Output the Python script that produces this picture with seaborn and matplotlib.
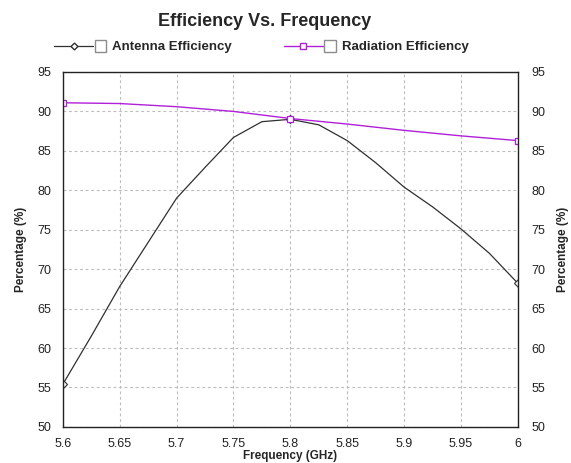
import pandas as pd
import matplotlib.pyplot as plt
import seaborn as sns
from matplotlib.lines import Line2D
from matplotlib.patches import Rectangle

# data
freq_ant = [5.6, 5.625, 5.65, 5.675, 5.7, 5.725, 5.75, 5.775, 5.8,
            5.825, 5.85, 5.875, 5.9, 5.925, 5.95, 5.975, 6.0]
antenna_eff = [55.4, 61.5, 67.8, 73.4, 79.0, 82.9, 86.7, 88.7, 89.0,
               88.3, 86.3, 83.5, 80.4, 77.9, 75.1, 72.0, 68.2]

freq_rad = [5.6, 5.65, 5.7, 5.75, 5.8, 5.85, 5.9, 5.95, 6.0]
radiation_eff = [91.1, 91.0, 90.6, 90.0, 89.1, 88.4, 87.6, 86.9, 86.3]

x_ticks = [5.6, 5.65, 5.7, 5.75, 5.8, 5.85, 5.9, 5.95, 6.0]
x_tick_labels = ['5.6', '5.65', '5.7', '5.75', '5.8', '5.85', '5.9', '5.95', '6']
y_ticks = [50, 55, 60, 65, 70, 75, 80, 85, 90, 95]

ant_df = pd.DataFrame({'freq': freq_ant, 'eff': antenna_eff})
rad_df = pd.DataFrame({'freq': freq_rad, 'eff': radiation_eff})

sns.set_style('white')
plt.rcParams['font.family'] = ['Liberation Sans', 'DejaVu Sans']


# legend entry: line with marker, then a small checkbox
class LineBoxHandler:
    def legend_artist(self, legend, orig_handle, fontsize, handlebox):
        x0, y0 = -handlebox.xdescent, -handlebox.ydescent
        w, h = handlebox.width, handlebox.height
        lw = w * 0.74
        ym = y0 + h / 2
        ln = Line2D([x0, x0 + lw], [ym, ym], color=orig_handle.get_color(),
                    lw=orig_handle.get_linewidth(), transform=handlebox.get_transform())
        mk = Line2D([x0 + lw / 2], [ym], ls='none', marker=orig_handle.get_marker(),
                    markersize=orig_handle.get_markersize(), markerfacecolor='white',
                    markeredgecolor=orig_handle.get_color(),
                    transform=handlebox.get_transform())
        bs = w * 0.22
        box = Rectangle((x0 + lw + 1, ym - bs / 2), bs, bs, facecolor='white',
                        edgecolor='#8c8c8c', lw=1.0, transform=handlebox.get_transform())
        handlebox.add_artist(ln)
        handlebox.add_artist(mk)
        handlebox.add_artist(box)
        return ln


fig = plt.figure(figsize=(5.71, 4.63), dpi=100)
ax = fig.add_axes([0.110, 0.078, 0.797, 0.7665])

ant_marks = [0, freq_ant.index(5.8), len(freq_ant) - 1]
rad_marks = [0, freq_rad.index(5.8), len(freq_rad) - 1]

sns.lineplot(data=ant_df, x='freq', y='eff', ax=ax, color='#303030', lw=0.9,
             marker='D', markersize=4, markerfacecolor='white',
             markeredgecolor='#303030', markeredgewidth=0.8, markevery=ant_marks)
sns.lineplot(data=rad_df, x='freq', y='eff', ax=ax, color='#b020d8', lw=1.0,
             marker='s', markersize=4.5, markerfacecolor='white',
             markeredgecolor='#b020d8', markeredgewidth=0.9, markevery=rad_marks)

ax.set_xlim(5.6, 6.0)
ax.set_ylim(50, 95)
ax.set_xticks(x_ticks)
ax.set_xticklabels(x_tick_labels)
ax.set_yticks(y_ticks)
ax.grid(True, color='#bcbcbc', linestyle=(0, (2.5, 2.5)), lw=0.8)
ax.tick_params(length=0, labelsize=9, colors='#222222')
ax.tick_params(axis='x', pad=8)
ax.tick_params(axis='y', pad=8)
for s in ax.spines.values():
    s.set_color('#222222')
    s.set_linewidth(1.0)

ax.set_xlabel('Frequency (GHz)', fontsize=8.5, fontweight='bold', labelpad=0)
ax.set_ylabel('Percentage (%)', fontsize=8.5, fontweight='bold', labelpad=8)

ax2 = ax.twinx()
ax2.set_ylim(50, 95)
ax2.set_yticks(y_ticks)
ax2.tick_params(length=0, labelsize=9, pad=10, colors='#222222')
ax2.set_ylabel('Percentage (%)', fontsize=8.5, fontweight='bold', labelpad=8)
for s in ax2.spines.values():
    s.set_visible(False)

fig.suptitle('Efficiency Vs. Frequency', fontsize=13, fontweight='bold',
             x=0.464, y=0.972)

ant_h = Line2D([], [], color='#303030', lw=0.9, marker='D', markersize=3.5)
rad_h = Line2D([], [], color='#b020d8', lw=1.0, marker='s', markersize=4)

fig.legend(handles=[ant_h, rad_h],
           labels=['Antenna Efficiency', 'Radiation Efficiency'],
           handler_map={Line2D: LineBoxHandler()},
           loc='center', bbox_to_anchor=(0.458, 0.898), ncol=2, frameon=False,
           handlelength=4.0, handletextpad=0.4, columnspacing=3.9,
           prop={'size': 9.5, 'weight': 'bold'})

fig.savefig('out.png', dpi=100)
